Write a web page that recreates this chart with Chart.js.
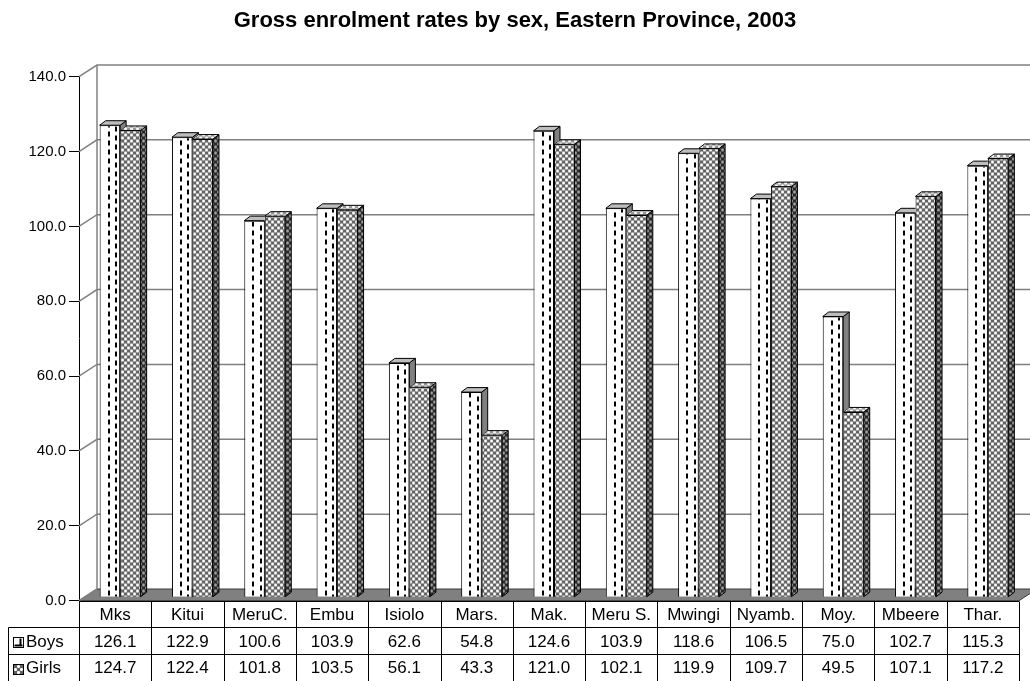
<!DOCTYPE html>
<html>
<head>
<meta charset="utf-8">
<title>Gross enrolment rates by sex, Eastern Province, 2003</title>
<script src="https://cdn.jsdelivr.net/npm/chart.js@4.4.0/dist/chart.umd.min.js"></script>
<style>
  html, body { margin: 0; padding: 0; background: #ffffff; }
  #wrap { width: 1030px; height: 681px; }
</style>
</head>
<body>
<div id="wrap"><canvas id="chart" width="1030" height="681"></canvas></div>
<script>
// ---- data ----
const categories = ['Mks', 'Kitui', 'MeruC.', 'Embu', 'Isiolo', 'Mars.', 'Mak.', 'Meru S.', 'Mwingi', 'Nyamb.', 'Moy.', 'Mbeere', 'Thar.'];
const boys  = [126.1, 122.9, 100.6, 103.9, 62.6, 54.8, 124.6, 103.9, 118.6, 106.5, 75.0, 102.7, 115.3];
const girls = [124.7, 122.4, 101.8, 103.5, 56.1, 43.3, 121.0, 102.1, 119.9, 109.7, 49.5, 107.1, 117.2];
const seriesNames = ['Boys', 'Girls'];
const yTicks = [0, 20, 40, 60, 80, 100, 120, 140];
const titleText = 'Gross enrolment rates by sex, Eastern Province, 2003';

// ---- styling ----
const FONT = '"Liberation Sans", Arial, Helvetica, sans-serif';
const WALL = { dx: 18, dy: -11.7 };      // depth of the back wall
const SHIFT = { dx: 5, dy: -3.5 };       // bars stand a little behind the front plane
const DEPTH = { dx: 6, dy: -4.5 };       // depth of each bar

// cross-hatch fill: white crosses on a dark lattice
function hatch(white, light, dark) {
  const c = document.createElement('canvas');
  c.width = 6; c.height = 6;
  const g = c.getContext('2d');
  const plus = [[0,0],[1,0],[5,0],[0,1],[0,5],[3,3],[2,3],[4,3],[3,2],[3,4]];
  const diag = [[1,1],[5,5],[1,5],[5,1],[2,2],[4,4],[2,4],[4,2]];
  g.fillStyle = dark; g.fillRect(0, 0, 6, 6);
  g.fillStyle = light; diag.forEach(p => g.fillRect(p[0], p[1], 1, 1));
  g.fillStyle = white; plus.forEach(p => g.fillRect(p[0], p[1], 1, 1));
  return g.createPattern(c, 'repeat');
}
const ctx0 = document.getElementById('chart').getContext('2d');
const girlsFront = hatch('#ffffff', '#c8c8c8', '#626262');
const girlsTop   = hatch('#ffffff', '#dcdcdc', '#969696');
const girlsSide  = hatch('#a0a0a0', '#6a6a6a', '#282828');

function poly(ctx, pts) {
  ctx.beginPath();
  ctx.moveTo(pts[0][0], pts[0][1]);
  for (let i = 1; i < pts.length; i++) ctx.lineTo(pts[i][0], pts[i][1]);
  ctx.closePath();
}
function face(ctx, pts, fill) {
  poly(ctx, pts);
  ctx.fillStyle = fill;
  ctx.fill();
  ctx.strokeStyle = '#000';
  ctx.lineWidth = 1;
  ctx.stroke();
}
function geom(el) {
  const p = el.getProps(['x', 'y', 'base', 'width'], true);
  return { L: p.x - p.width / 2, R: p.x + p.width / 2, T: Math.min(p.y, p.base), B: Math.max(p.y, p.base), W: p.width };
}
function sidePts(g) {
  return [[g.R, g.T], [g.R + DEPTH.dx, g.T + DEPTH.dy], [g.R + DEPTH.dx, g.B + DEPTH.dy], [g.R, g.B]];
}
function topPts(g) {
  return [[g.L, g.T], [g.R, g.T], [g.R + DEPTH.dx, g.T + DEPTH.dy], [g.L + DEPTH.dx, g.T + DEPTH.dy]];
}

const frame3d = {
  id: 'frame3d',
  beforeDatasetsDraw(chart) {
    const { ctx, chartArea: a } = chart;
    const y = chart.scales.y;
    const y0 = y.getPixelForValue(0);
    ctx.save();
    // floor
    poly(ctx, [[a.left, y0], [a.right, y0], [a.right + WALL.dx, y0 + WALL.dy], [a.left + WALL.dx, y0 + WALL.dy]]);
    ctx.fillStyle = '#808080';
    ctx.fill();
    ctx.strokeStyle = '#3a3a3a';
    ctx.lineWidth = 1;
    ctx.stroke();
    // side wall and back wall grid
    ctx.strokeStyle = '#808080';
    ctx.lineWidth = 1.5;
    yTicks.forEach(v => {
      const py = y.getPixelForValue(v);
      ctx.beginPath();
      ctx.moveTo(a.left, py);
      ctx.lineTo(a.left + WALL.dx, py + WALL.dy);
      if (v > 0) ctx.lineTo(a.right + WALL.dx, py + WALL.dy);
      ctx.stroke();
    });
    const yTop = y.getPixelForValue(yTicks[yTicks.length - 1]);
    ctx.beginPath();
    ctx.moveTo(a.left + WALL.dx, yTop + WALL.dy);
    ctx.lineTo(a.left + WALL.dx, y0 + WALL.dy);
    ctx.stroke();
    ctx.restore();

    ctx.save();
    ctx.translate(SHIFT.dx, SHIFT.dy);
  },
  afterDatasetDraw(chart, args) {
    const ctx = chart.ctx;
    const meta = args.meta;
    if (args.index === 1) {
      meta.data.forEach(el => {
        const g = geom(el);
        face(ctx, sidePts(g), girlsSide);
        face(ctx, topPts(g), girlsTop);
      });
    } else if (args.index === 0) {
      const other = chart.getDatasetMeta(1).data;
      meta.data.forEach((el, i) => {
        const g = geom(el);
        // dashed stripes on the front face
        ctx.save();
        ctx.beginPath();
        ctx.rect(g.L + 1, g.T + 1, g.W - 2, g.B - g.T - 1);
        ctx.clip();
        ctx.strokeStyle = '#000';
        ctx.lineWidth = 2;
        ctx.setLineDash([5, 4]);
        [0.44, 0.8].forEach((f, k) => {
          const xx = Math.round(g.L + f * g.W);
          const start = Math.floor(g.T / 9) * 9 + k * 4;
          ctx.beginPath();
          ctx.moveTo(xx, start);
          ctx.lineTo(xx, g.B);
          ctx.stroke();
        });
        ctx.restore();
        // side and top, hidden where the neighbouring bar sits in front
        const o = geom(other[i]);
        ctx.save();
        ctx.beginPath();
        ctx.rect(0, -50, chart.width + 50, chart.height + 100);
        ctx.rect(o.L, o.T, o.W, o.B - o.T);
        const tp = topPts(o);
        ctx.moveTo(tp[0][0], tp[0][1]);
        tp.slice(1).forEach(p => ctx.lineTo(p[0], p[1]));
        ctx.closePath();
        ctx.clip('evenodd');
        face(ctx, sidePts(g), '#808080');
        face(ctx, topPts(g), '#bdbdbd');
        ctx.restore();
      });
    }
  },
  afterDatasetsDraw(chart) {
    chart.ctx.restore();
  },
  afterDraw(chart) {
    const { ctx, chartArea: a } = chart;
    const x = chart.scales.x;
    const y0 = chart.scales.y.getPixelForValue(0);
    const rowH = (chart.height - y0) / 3;
    const colW = (a.right - a.left) / categories.length;
    const crisp = v => Math.round(v) + 0.5;
    ctx.save();
    ctx.strokeStyle = '#000';
    ctx.lineWidth = 1;
    const r1 = crisp(y0 + rowH), r2 = crisp(y0 + 2 * rowH), keyLeft = 8.5;
    ctx.beginPath();
    ctx.moveTo(a.left, crisp(y0)); ctx.lineTo(a.right, crisp(y0));
    ctx.moveTo(keyLeft, r1); ctx.lineTo(a.right, r1);
    ctx.moveTo(keyLeft, r2); ctx.lineTo(a.right, r2);
    ctx.moveTo(keyLeft, r1); ctx.lineTo(keyLeft, chart.height);
    for (let i = 0; i <= categories.length; i++) {
      const xx = crisp(a.left + i * colW);
      ctx.moveTo(xx, crisp(y0)); ctx.lineTo(xx, chart.height);
    }
    ctx.stroke();

    ctx.fillStyle = '#000';
    ctx.font = '17px ' + FONT;
    ctx.textAlign = 'center';
    ctx.textBaseline = 'middle';
    const rows = [categories, boys.map(v => v.toFixed(1)), girls.map(v => v.toFixed(1))];
    rows.forEach((row, r) => {
      const cy = y0 + rowH * (r + 0.5) + 1;
      row.forEach((t, i) => ctx.fillText(t, x.getPixelForValue(i), cy));
    });

    // series keys
    ctx.textAlign = 'left';
    seriesNames.forEach((name, k) => {
      const cy = y0 + rowH * (k + 1.5) + 1;
      const kx = 13.5, ky = Math.round(cy - 5) + 0.5;
      ctx.fillStyle = k === 0 ? '#ffffff' : girlsFront;
      ctx.fillRect(kx, ky, 10, 10);
      ctx.strokeStyle = '#000';
      ctx.lineWidth = 1;
      ctx.strokeRect(kx, ky, 10, 10);
      if (k === 0) {
        ctx.lineWidth = 2;
        ctx.beginPath();
        ctx.moveTo(kx + 7, ky + 1); ctx.lineTo(kx + 7, ky + 9);
        ctx.moveTo(kx + 1, ky + 8); ctx.lineTo(kx + 9, ky + 8);
        ctx.stroke();
      }
      ctx.fillStyle = '#000';
      ctx.fillText(name, 26, cy);
    });
    ctx.restore();
  }
};

new Chart(ctx0, {
  type: 'bar',
  data: {
    labels: categories,
    datasets: [
      { label: seriesNames[0], data: boys, backgroundColor: '#ffffff', borderColor: '#000000', borderWidth: 1 },
      { label: seriesNames[1], data: girls, backgroundColor: girlsFront, borderColor: '#000000', borderWidth: 1 }
    ]
  },
  options: {
    responsive: false,
    animation: false,
    devicePixelRatio: 1,
    datasets: { bar: { categoryPercentage: 0.567, barPercentage: 1, clip: false } },
    layout: { padding: { left: 0, right: 0, top: 0, bottom: 80.3 } },
    plugins: {
      legend: { display: false },
      tooltip: { enabled: false },
      title: {
        display: true,
        text: titleText,
        color: '#000',
        font: { family: FONT, size: 22, weight: 'bold' },
        padding: { top: 8, bottom: 42.3 }
      }
    },
    scales: {
      x: { display: false },
      y: {
        min: 0,
        max: 140,
        afterFit(s) { s.width = 79; },
        afterBuildTicks(s) { s.ticks = yTicks.map(v => ({ value: v })); },
        ticks: {
          color: '#000',
          padding: 3,
          font: { family: FONT, size: 15 },
          callback: v => Number(v).toFixed(1)
        },
        grid: { drawOnChartArea: false, tickLength: 10, tickColor: '#000' },
        border: { color: '#000', width: 1 }
      },
      // empty strip on the right that keeps the floor's back corner on the canvas
      gutter: {
        position: 'right',
        display: true,
        afterFit(s) { s.width = 11; },
        ticks: { display: false },
        grid: { display: false, drawTicks: false },
        border: { display: false }
      }
    }
  },
  plugins: [frame3d]
});
</script>
</body>
</html>
